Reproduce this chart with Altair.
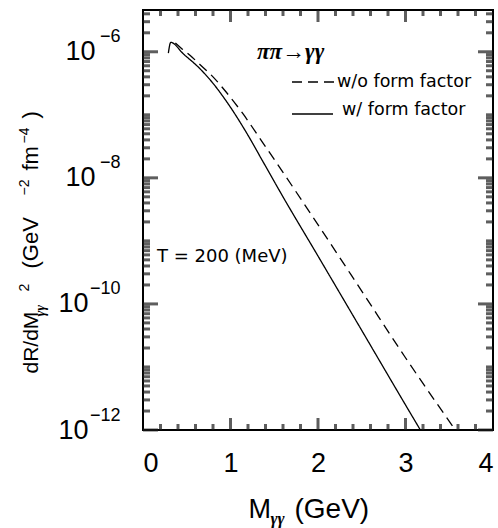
import altair as alt
import pandas as pd

# ---- data ----
m_with = [0.29, 0.317, 0.46, 0.65, 0.80, 0.99, 1.19, 1.37, 1.60, 2.0, 2.5, 3.0, 3.17]
r_with = [9.55e-7, 1.41e-6, 9.3e-7, 5.4e-7, 3.16e-7, 1.38e-7, 5.0e-8, 1.82e-8, 5.0e-9,
          5.75e-10, 3.8e-11, 2.5e-12, 1.0e-12]
m_wo = [0.37, 0.45, 0.54, 0.65, 0.80, 0.95, 1.14, 1.37, 1.81, 2.5, 3.0, 3.57]
r_wo = [1.38e-6, 1.10e-6, 8.7e-7, 6.3e-7, 4.0e-7, 2.3e-7, 1.05e-7, 3.6e-8, 4.5e-9, 1.6e-10, 1.4e-11, 1.0e-12]
series_names = ["w/o form factor", "w/ form factor"]
x_labels = [0, 1, 2, 3, 4]
x_major = [1, 2, 3]
x_minor = [0.2, 0.4, 0.6, 0.8, 1.2, 1.4, 1.6, 1.8, 2.2, 2.4, 2.6, 2.8, 3.2, 3.4, 3.6, 3.8]
y_labels_a = [1e-6, 1e-8]
y_labels_b = [1e-10, 1e-12]
y_major = [1e-12, 1e-10, 1e-8, 1e-6]
decades = [-12, -11, -10, -9, -8, -7, -6]
y_minor = [k * 10.0 ** d for d in decades for k in range(1, 10)
           if not (k == 1 and d % 2 == 0) and 1e-12 < k * 10.0 ** d <= 4.6e-6]

df = pd.concat([
    pd.DataFrame({"m": m_wo, "r": r_wo, "series": series_names[0]}),
    pd.DataFrame({"m": m_with, "r": r_with, "series": series_names[1]}),
], ignore_index=True)

W, H = 350, 420
xs = alt.Scale(domain=[0, 4], nice=False, zero=False)
ys = alt.Scale(type="log", domain=[1e-12, 4.6e-6], nice=False)

SANS = "Liberation Sans"
SERIF = "Liberation Serif"


def A(**kw):
    base = dict(domain=False, grid=False, ticks=False, labels=False, title=None,
                labelOverlap=False, labelColor="black",
                titleColor="black", titleFontWeight="normal", titleFont=SANS,
                labelFont=SANS)
    base.update(kw)
    return alt.Axis(**base)


def carrier(xaxis, yaxis):
    return alt.Chart(df).mark_point(opacity=0).encode(
        x=alt.X("m:Q", scale=xs, axis=xaxis),
        y=alt.Y("r:Q", scale=ys, axis=yaxis),
    )


lines = alt.Chart(df).mark_line(color="black", strokeWidth=1.3, clip=True, interpolate="monotone").encode(
    x=alt.X("m:Q", scale=xs, axis=A(orient="bottom", labels=True, values=x_labels, format="d",
                                     labelFontSize=27, labelPadding=33, labelBaseline="middle")),
    y=alt.Y("r:Q", scale=ys, axis=A(orient="left", labels=True, values=y_labels_a,
                                     labelExpr="'10'", labelFontSize=27, labelPadding=48)),
    strokeDash=alt.StrokeDash("series:N", scale=alt.Scale(domain=series_names, range=[[10, 6], [1, 0]]),
                              legend=None),
)

layers = [lines]
axis_pairs = [
    (A(orient="bottom", title="M", titleX=105, titleY=87, titleAlign="left", titleAngle=0,
       titleBaseline="alphabetic", titleFontSize=27),
     A(orient="left", labels=True, values=y_labels_b, labelExpr="'10'", labelFontSize=27, labelPadding=55)),
    (A(orient="bottom", title="\u03b3\u03b3", titleX=127, titleY=93, titleAlign="left", titleAngle=0,
       titleBaseline="alphabetic", titleFontSize=17, titleFont=SERIF, titleFontStyle="italic",
       titleFontWeight="bold"),
     A(orient="left", labels=True, values=y_major, labelExpr="'\u2212' + round(-log(datum.value)/LN10)",
       labelFontSize=18, labelPadding=23, labelOffset=-15)),
    (A(orient="bottom", title="(GeV)", titleX=151, titleY=87, titleAlign="left", titleAngle=0,
       titleBaseline="alphabetic", titleFontSize=28),
     A(orient="left", title="dR/dM", titleX=-106, titleY=363, titleAngle=270, titleAlign="left",
       titleBaseline="alphabetic", titleFontSize=21)),
    (None,
     A(orient="left", title="\u03b3\u03b3", titleX=-99, titleY=306, titleAngle=270, titleAlign="left",
       titleBaseline="alphabetic", titleFontSize=14, titleFont=SERIF, titleFontStyle="italic",
       titleFontWeight="bold")),
    (None,
     A(orient="left", title="2", titleX=-115, titleY=281, titleAngle=270, titleAlign="left",
       titleBaseline="alphabetic", titleFontSize=14)),
    (None,
     A(orient="left", title="(GeV", titleX=-106, titleY=258, titleAngle=270, titleAlign="left",
       titleBaseline="alphabetic", titleFontSize=22)),
    (None,
     A(orient="left", title="\u22122", titleX=-115, titleY=185, titleAngle=270, titleAlign="left",
       titleBaseline="alphabetic", titleFontSize=14)),
    (None,
     A(orient="left", title="fm", titleX=-106, titleY=160, titleAngle=270, titleAlign="left",
       titleBaseline="alphabetic", titleFontSize=22)),
    (None,
     A(orient="left", title="\u22124", titleX=-115, titleY=133, titleAngle=270, titleAlign="left",
       titleBaseline="alphabetic", titleFontSize=14)),
    (None,
     A(orient="left", title=")", titleX=-106, titleY=108, titleAngle=270, titleAlign="left",
       titleBaseline="alphabetic", titleFontSize=22)),
]
for xa, ya in axis_pairs:
    layers.append(carrier(xa, ya))


# ---- inward tick marks on all four frame edges ----
def yticks(vals, xc, length):
    return alt.Chart(pd.DataFrame({"v": vals})).mark_tick(
        color="#1a1a1a", thickness=3, size=length, orient="horizontal").encode(
        y=alt.Y("v:Q", scale=ys, axis=None), x=alt.value(xc))


def xticks(vals, yc, length):
    return alt.Chart(pd.DataFrame({"v": vals})).mark_tick(
        color="#1a1a1a", thickness=3, size=length, orient="vertical").encode(
        x=alt.X("v:Q", scale=xs, axis=None), y=alt.value(yc))


layers += [
    yticks(y_minor, 3.5, 7), yticks(y_major, 7.5, 15),
    yticks(y_minor, W - 3.5, 7), yticks(y_major, W - 7.5, 15),
    xticks(x_minor, H - 3, 6), xticks(x_major, H - 6, 12),
    xticks(x_minor, 3, 6), xticks(x_major, 6, 12),
]

# ---- annotations / hand-drawn legend ----
ann = pd.DataFrame({"t": ["x"]})
title_txt = alt.Chart(ann).mark_text(text="\u03c0\u03c0\u2192\u03b3\u03b3", font=SERIF, fontSize=23,
                                      fontStyle="italic", fontWeight="bold", align="left",
                                      baseline="alphabetic", color="black").encode(
    x=alt.value(114), y=alt.value(49))
leg1_line = alt.Chart(ann).mark_rule(color="black", strokeWidth=1.3, strokeDash=[10, 6]).encode(
    x=alt.value(149), x2=alt.value(192), y=alt.value(72))
leg1_txt = alt.Chart(ann).mark_text(text=series_names[0], font="DejaVu Sans", fontSize=17.5,
                                     align="left", baseline="middle", color="black").encode(
    x=alt.value(194), y=alt.value(72))
leg2_line = alt.Chart(ann).mark_rule(color="black", strokeWidth=1.3).encode(
    x=alt.value(149), x2=alt.value(190), y=alt.value(104))
leg2_txt = alt.Chart(ann).mark_text(text=series_names[1], font="DejaVu Sans", fontSize=17.5,
                                     align="left", baseline="middle", color="black").encode(
    x=alt.value(199), y=alt.value(100))
temp_txt = alt.Chart(ann).mark_text(text="T  =  200 (MeV)", font="DejaVu Sans", fontSize=18,
                                     align="left", baseline="middle", color="black").encode(
    x=alt.value(14), y=alt.value(247))

layers += [title_txt, leg1_line, leg1_txt, leg2_line, leg2_txt, temp_txt]

chart = alt.layer(*layers).resolve_axis(x="independent", y="independent").properties(
    width=W, height=H,
    autosize=alt.AutoSizeParams(type="none"),
    padding={"left": 143, "top": 10, "right": 5, "bottom": 98},
).configure_view(stroke="black", strokeWidth=2)

chart.save("out.html", embed_options={"renderer": "svg", "actions": False})
